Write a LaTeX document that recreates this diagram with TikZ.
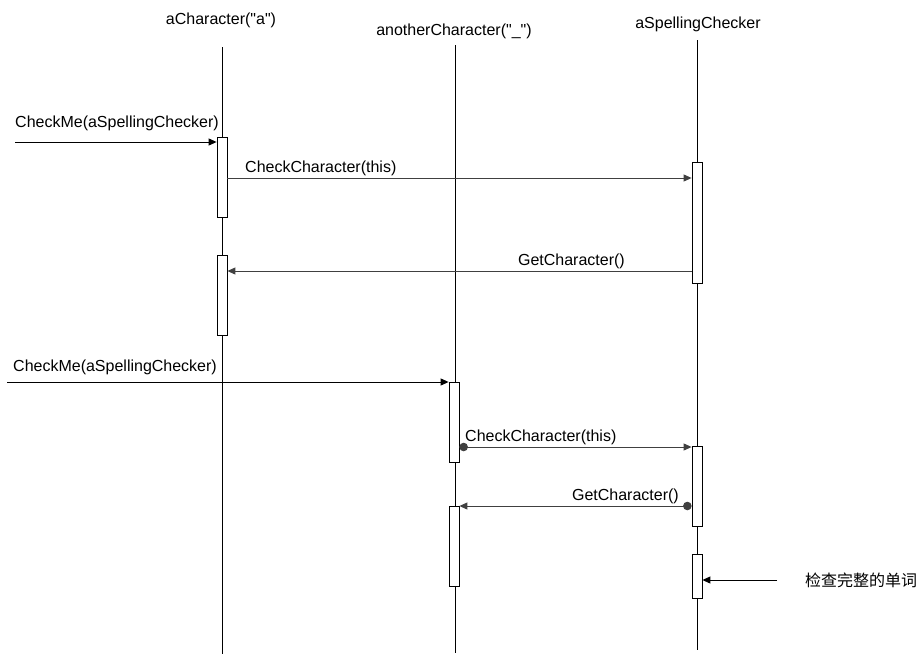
\documentclass[tikz,border=0pt]{standalone}
\usepackage{fontspec}
\setmainfont{Liberation Sans}[Ligatures=TeXOff]
\newfontfamily\cjk{Noto Sans CJK SC}
\usetikzlibrary{arrows.meta}
\begin{document}
\begin{tikzpicture}[x=1pt,y=-1pt,font=\fontsize{16}{19}\selectfont,
	life/.style={draw=black,line width=1pt},
	act/.style={draw=black,fill=white,line width=0.8pt,minimum width=10pt,inner sep=0pt,anchor=north},
	msg/.style={draw=black!75,line width=0.9pt,-{Triangle[length=8pt,width=7pt]}},
	dotmsg/.style={msg,{Circle[length=8.5pt]}-{Triangle[length=8pt,width=7pt]}},
	label/.style={inner sep=0pt}]
	\useasboundingbox (0,0) rectangle (921,657);
	% objects and lifelines
	\node (hchar) at (221,20) {aCharacter("a")};
	\node (hother) at (454,31) {anotherCharacter("\_")};
	\node (hspell) at (698,24) {aSpellingChecker};
	\coordinate (tchar) at (222,47);  \coordinate (bchar) at (222,654);
	\coordinate (tother) at (455,45); \coordinate (bother) at (455,653);
	\coordinate (tspell) at (697,40); \coordinate (bspell) at (697,650);
	\draw[life] (tchar) -- (bchar);
	\draw[life] (tother) -- (bother);
	\draw[life] (tspell) -- (bspell);
	% activations
	\node[act,minimum height=80pt] (c1) at (222,137) {};
	\node[act,minimum height=80pt] (c2) at (222,255) {};
	\node[act,minimum height=121pt] (s1) at (697,162) {};
	\node[act,minimum height=80pt] (o1) at (454,382) {};
	\node[act,minimum height=80pt] (o2) at (454,506) {};
	\node[act,minimum height=80pt] (s2) at (697,446) {};
	\node[act,minimum height=44pt] (s3) at (697,554) {};
	% message levels
	\coordinate (in1) at (15,142);
	\coordinate (y1) at (0,178);
	\coordinate (y2) at (0,271);
	\coordinate (in2) at (7,382);
	\coordinate (y3) at (0,447);
	\coordinate (y4) at (0,506);
	\coordinate (in3) at (777,580);
	% messages
	\draw[msg,draw=black] (in1) -- (c1.west |- in1);
	\draw[msg] (c1.east |- y1) -- (s1.west |- y1);
	\draw[msg] (s1.west |- y2) -- (c2.east |- y2);
	\draw[msg,draw=black] (in2) -- (o1.west |- in2);
	\draw[dotmsg] (o1.east |- y3) -- (s2.west |- y3);
	\draw[dotmsg] (s2.west |- y4) -- (o2.east |- y4);
	\draw[msg,draw=black] (in3) -- (s3.east |- in3);
	% labels
	\node[label,anchor=base west] (l1) at (15,127) {CheckMe(aSpellingChecker)};
	\node[label,anchor=base west] (l2) at (245,172) {CheckCharacter(this)};
	\node[label,anchor=base east] (l3) at (625,265) {GetCharacter()};
	\node[label,anchor=base west] (l4) at (13,371) {CheckMe(aSpellingChecker)};
	\node[label,anchor=base west] (l5) at (465,441) {CheckCharacter(this)};
	\node[label,anchor=base east] (l6) at (679,500) {GetCharacter()};
	\node[label,anchor=base west] (l7) at (805,586) {\cjk 检查完整的单词};
\end{tikzpicture}
\end{document}
